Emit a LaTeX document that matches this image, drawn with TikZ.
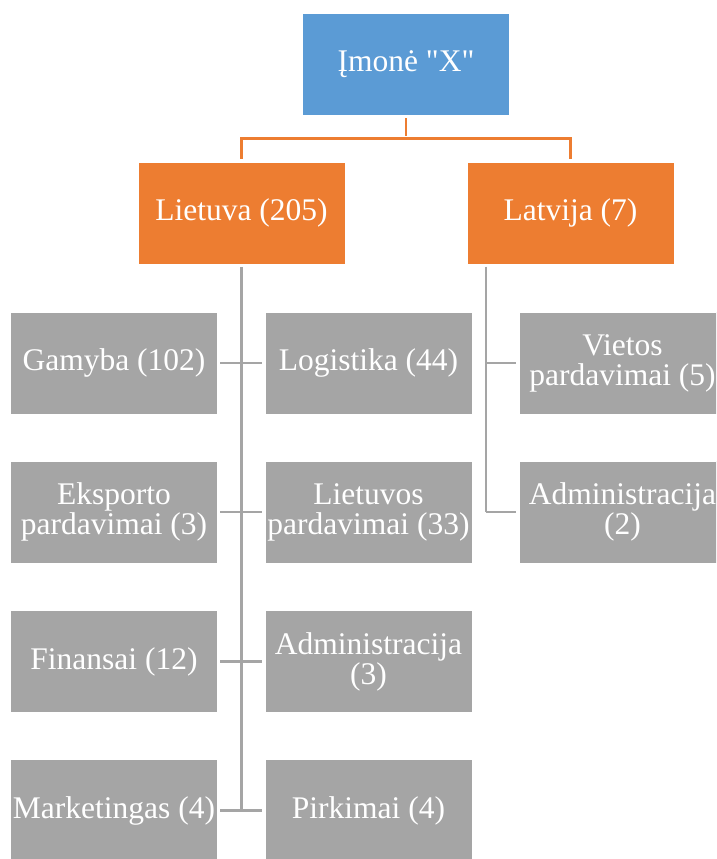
\documentclass[tikz,border=0pt]{standalone}
\usepackage{fontspec}
\setmainfont{Liberation Serif}[Ligatures=TeXOff]
\definecolor{headblue}{HTML}{5B9BD5}
\definecolor{unitorange}{HTML}{ED7D31}
\definecolor{deptgrey}{HTML}{A5A5A5}
\begin{document}
\begin{tikzpicture}[x=1pt,y=-1pt,
  box/.style={minimum width=207pt, minimum height=102pt, inner sep=0pt,
    text=white, align=center, draw=white, line width=0.6pt,
    font=\fontsize{31.5}{30}\selectfont},
  headbox/.style={box, fill=headblue},
  unitbox/.style={box, fill=unitorange},
  deptbox/.style={box, fill=deptgrey},
  orangelink/.style={draw=unitorange, line width=2.6pt, shorten <=2.5pt, shorten >=2.5pt},
  greylink/.style={draw=deptgrey, line width=2.2pt, shorten <=2.5pt, shorten >=2.5pt}]
\useasboundingbox (0,0) rectangle (716,859);
\clip (0,0) rectangle (716,859);
\fill[white] (0,0) rectangle (716,859);

% top level
\node[headbox] (top) at (406,64.5) {Įmonė "X"};
% country units
\node[unitbox] (lt) at (241.5,213) {Lietuva (205)};
\node[unitbox] (lv) at (570.5,213) {Latvija (7)};

% Lietuva departments
\node[deptbox] (gam) at (114,363) {Gamyba (102)};
\node[deptbox] (log) at (368.5,363) {Logistika (44)};
\node[deptbox] (eks) at (114,512) {Eksporto\\pardavimai (3)};
\node[deptbox] (ltp) at (368.5,512) {Lietuvos\\pardavimai (33)};
\node[deptbox] (fin) at (114,661.5) {Finansai (12)};
\node[deptbox] (adm) at (368.5,661.5) {Administracija\\(3)};
\node[deptbox] (mkt) at (114,810.5) {Marketingas (4)};
\node[deptbox] (pir) at (368.5,810.5) {Pirkimai (4)};

% Latvija departments
\node[deptbox] (vie) at (622.5,363) {Vietos\\pardavimai (5)};
\node[deptbox] (adl) at (622.5,512) {Administracija\\(2)};

% top-level links
\coordinate (split) at (406,138.5);
\draw[orangelink] (top.south) -- (split);
\draw[orangelink, shorten <=0pt] (split) -| (lt.north);
\draw[orangelink, shorten <=0pt] (split) -| (lv.north);

% Lietuva spine and branches
\coordinate (ltend) at (241.5,810.5);
\draw[greylink, shorten >=0pt] (lt.south) -- (ltend);
\draw[greylink] (gam.east) -- (log.west);
\draw[greylink] (eks.east) -- (ltp.west);
\draw[greylink] (fin.east) -- (adm.west);
\draw[greylink] (mkt.east) -- (pir.west);

% Latvija spine and branches
\coordinate (lvtop) at (486,264);
\coordinate (lvend) at (486,512);
\coordinate (lvmid) at (486,363);
\draw[greylink, shorten >=0pt] (lvtop) -- (lvend);
\draw[greylink, shorten <=0pt] (lvend) -- (adl.west);
\draw[greylink, shorten <=0pt] (lvmid) -- (vie.west);
\end{tikzpicture}
\end{document}
